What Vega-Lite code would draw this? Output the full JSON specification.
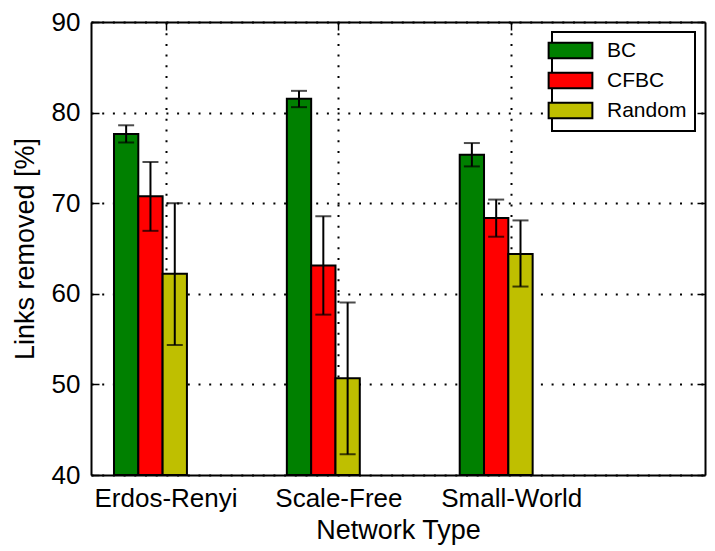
{
  "$schema": "https://vega.github.io/schema/vega-lite/v6.json",
  "width": 614,
  "height": 453,
  "autosize": "none",
  "padding": {"left": 91, "top": 22, "right": 10, "bottom": 76},
  "background": "white",
  "config": {
    "view": {"stroke": null},
    "font": "Liberation Sans",
    "axis": {
      "domainColor": "black",
      "domainWidth": 2,
      "tickColor": "black",
      "tickWidth": 1.5,
      "tickSize": -8,
      "labelColor": "black",
      "labelFont": "Liberation Sans",
      "labelFontSize": 26,
      "titleFont": "Liberation Sans",
      "titleFontSize": 27,
      "titleFontWeight": "normal",
      "titleColor": "black",
      "gridColor": "black",
      "gridWidth": 2,
      "gridDash": [2, 8.7],
      "zindex": 1
    }
  },
  "data": {
    "values": [
      {"network": "Erdos-Renyi", "method": "BC", "value": 77.65, "lo": 76.7, "hi": 78.6},
      {"network": "Erdos-Renyi", "method": "CFBC", "value": 70.76, "lo": 66.95, "hi": 74.55},
      {"network": "Erdos-Renyi", "method": "Random", "value": 62.2, "lo": 54.35, "hi": 70.0},
      {"network": "Scale-Free", "method": "BC", "value": 81.52, "lo": 80.6, "hi": 82.4},
      {"network": "Scale-Free", "method": "CFBC", "value": 63.13, "lo": 57.7, "hi": 68.56},
      {"network": "Scale-Free", "method": "Random", "value": 50.68, "lo": 42.28, "hi": 59.05},
      {"network": "Small-World", "method": "BC", "value": 75.35, "lo": 74.06, "hi": 76.64},
      {"network": "Small-World", "method": "CFBC", "value": 68.38, "lo": 66.3, "hi": 70.4},
      {"network": "Small-World", "method": "Random", "value": 64.4, "lo": 60.8, "hi": 68.1}
    ]
  },
  "encoding": {
    "x": {
      "field": "network",
      "type": "nominal",
      "sort": ["Erdos-Renyi", "Scale-Free", "Small-World"],
      "scale": {"paddingInner": 0.398, "paddingOuter": 0.475, "align": 0.14}
    },
    "xOffset": {
      "field": "method",
      "type": "nominal",
      "sort": ["BC", "CFBC", "Random"],
      "scale": {"paddingInner": 0, "paddingOuter": 0.64, "align": 0}
    }
  },
  "layer": [
    {
      "mark": {"type": "bar", "stroke": "black", "strokeWidth": 2, "opacity": 1},
      "encoding": {
        "x": {
          "field": "network",
          "type": "nominal",
          "sort": ["Erdos-Renyi", "Scale-Free", "Small-World"],
          "axis": {"orient": "bottom", "title": "Network Type", "labelAngle": 0, "grid": true, "bandPosition": 0.5, "labelPadding": 18, "titlePadding": 6}
        },
        "y": {
          "field": "value",
          "type": "quantitative",
          "scale": {"domain": [40, 90], "zero": false, "nice": false},
          "axis": {"orient": "left", "title": "Links removed [%]", "values": [40, 50, 60, 70, 80, 90], "grid": true, "labelPadding": 19, "titlePadding": 12}
        },
        "y2": {"datum": 40},
        "fill": {
          "field": "method",
          "type": "nominal",
          "scale": {"domain": ["BC", "CFBC", "Random"], "range": ["#008000", "#ff0000", "#bfbf00"]},
          "legend": {
            "orient": "top-right",
            "offset": 10,
            "title": null,
            "strokeColor": "black",
            "fillColor": "white",
            "padding": 8,
            "cornerRadius": 0,
            "symbolType": "M-2.86,-1H2.86V1H-2.86Z",
            "symbolSize": 234,
            "symbolStrokeColor": "black",
            "symbolStrokeWidth": 2,
            "symbolOpacity": 1,
            "labelFont": "Liberation Sans",
            "labelFontSize": 21,
            "labelColor": "black",
            "labelOffset": 26,
            "rowPadding": 5,
            "encode": {"legend": {"update": {"strokeWidth": {"value": 2}}}}
          }
        }
      }
    },
    {
      "mark": {"type": "rule", "color": "black", "strokeWidth": 2},
      "encoding": {
        "x": {
          "field": "network",
          "type": "nominal",
          "sort": ["Erdos-Renyi", "Scale-Free", "Small-World"],
          "axis": {"orient": "top", "title": null, "labels": false, "grid": false, "bandPosition": 0.5}
        },
        "y": {
          "field": "lo",
          "type": "quantitative",
          "axis": {"orient": "right", "title": null, "labels": false, "grid": false, "values": [40, 50, 60, 70, 80, 90]}
        },
        "y2": {"field": "hi"}
      }
    },
    {
      "mark": {"type": "tick", "color": "black", "size": 16, "thickness": 2, "orient": "horizontal"},
      "encoding": {
        "x": {"field": "network", "type": "nominal", "sort": ["Erdos-Renyi", "Scale-Free", "Small-World"], "axis": null},
        "y": {"field": "lo", "type": "quantitative", "axis": null}
      }
    },
    {
      "mark": {"type": "tick", "color": "black", "size": 16, "thickness": 2, "orient": "horizontal"},
      "encoding": {
        "x": {"field": "network", "type": "nominal", "sort": ["Erdos-Renyi", "Scale-Free", "Small-World"], "axis": null},
        "y": {"field": "hi", "type": "quantitative", "axis": null}
      }
    }
  ],
  "resolve": {"axis": {"x": "independent", "y": "independent"}}
}
